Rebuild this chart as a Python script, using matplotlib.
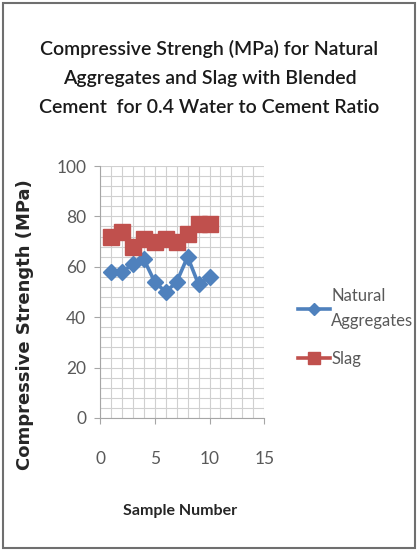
import numpy as np
import matplotlib.pyplot as plt
from matplotlib.patches import Rectangle

# Sample data
sample = [1, 2, 3, 4, 5, 6, 7, 8, 9, 10]
natural = [58, 58, 61, 63, 54, 50, 54, 64, 53, 56]
slag = [72, 74, 68, 71, 70, 71, 70, 73, 77, 77]

plt.rcParams['font.family'] = ['Lato', 'DejaVu Sans']

fig = plt.figure(figsize=(4.19, 5.51), dpi=100)
ax = fig.add_axes([0.2387, 0.2414, 0.392, 0.4573])

# Outer frame around the chart
fig.patches.append(Rectangle((0.006, 0.005), 0.985, 0.99, transform=fig.transFigure,
                             fill=False, edgecolor='#6f6f6f', linewidth=1.5))

l1, = ax.plot(sample, natural, color='#4F81BD', linewidth=2.6, marker='D',
              markersize=8, label='Natural\nAggregates', zorder=3)
l2, = ax.plot(sample, slag, color='#C0504D', linewidth=2.6, marker='s',
              markersize=11, label='Slag', zorder=3)

ax.set_xlim(0, 15)
ax.set_ylim(0, 100)
ax.set_xticks(np.arange(0, 16, 5))
ax.set_yticks(np.arange(0, 101, 20))
ax.set_xticks(np.arange(0, 16, 1), minor=True)
ax.set_yticks(np.arange(0, 101, 4), minor=True)
ax.grid(True, which='both', color='#d0d0d0', linewidth=0.8)
ax.set_axisbelow(True)

for s in ['top', 'right']:
    ax.spines[s].set_visible(False)
for s in ['left', 'bottom']:
    ax.spines[s].set_color('#a6a6a6')
ax.tick_params(which='major', direction='out', length=4, color='#a6a6a6',
               labelsize=12.5, labelcolor='#595959')
ax.tick_params(axis='y', pad=6)
ax.tick_params(axis='x', pad=20)
ax.tick_params(which='minor', length=0)

ax.set_xlabel('Sample Number', fontsize=11.5, fontweight='bold', color='#262626')
ax.xaxis.set_label_coords(0.49, -0.34)
ax.set_ylabel('Compressive Strength (MPa)', fontsize=13, fontweight='bold',
              color='#262626', family=['DejaVu Sans'])
ax.yaxis.set_label_coords(-0.40, 0.37)

fig.text(0.5, 0.858, 'Compressive Strengh (MPa) for Natural\nAggregates and Slag with Blended\nCement  for 0.4 Water to Cement Ratio',
         ha='center', va='center', fontsize=14, fontweight='semibold',
         color='#1a1a1a', linespacing=1.85)

leg = fig.legend(handles=[l1, l2], loc='upper left', bbox_to_anchor=(0.695, 0.49),
                 frameon=False, fontsize=12, labelcolor='#595959', handlelength=1.9,
                 handletextpad=0.1, labelspacing=1.3, borderaxespad=0, markerscale=0.8)
for t in leg.get_texts():
    t.set_linespacing(1.75)

fig.savefig('out.png', dpi=100)
